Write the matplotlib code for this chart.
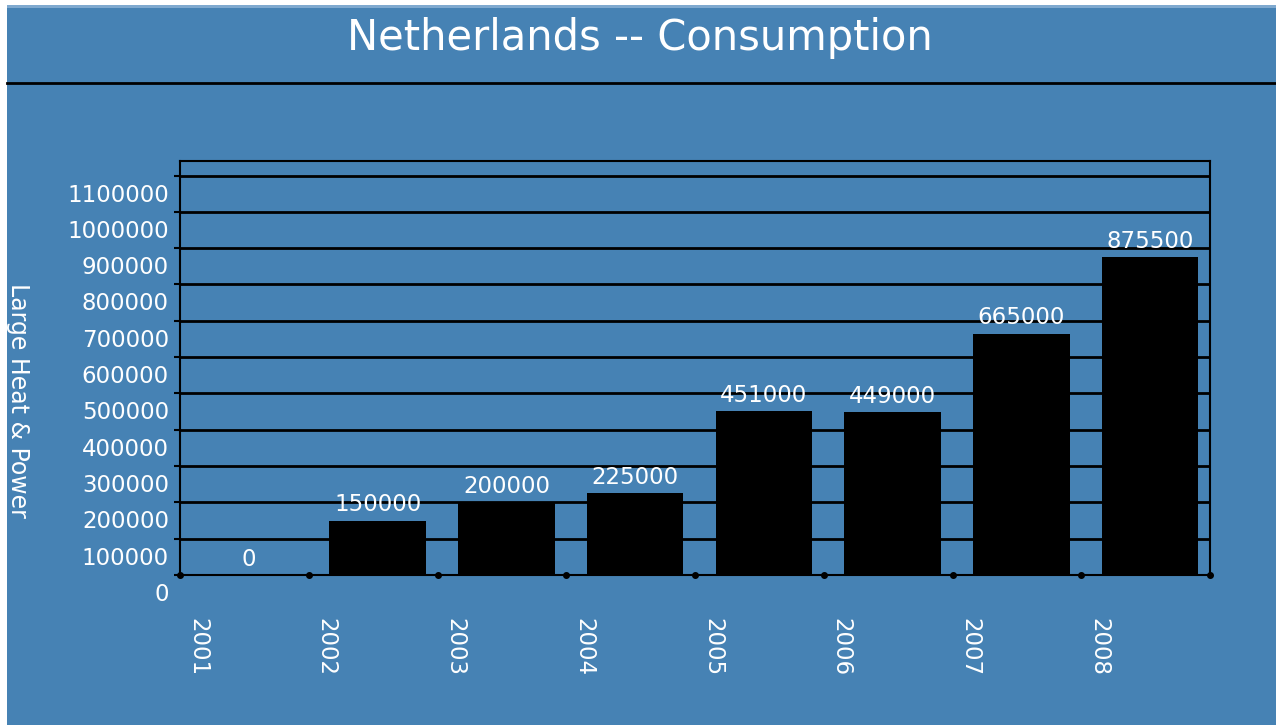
import matplotlib.pyplot as plt
import matplotlib.transforms as mtransforms
from matplotlib.patches import Rectangle
from matplotlib.lines import Line2D
import numpy as np

years = ['2001', '2002', '2003', '2004', '2005', '2006', '2007', '2008']
consumption = [0, 150000, 200000, 225000, 451000, 449000, 665000, 875500]
y_ticks = [0, 100000, 200000, 300000, 400000, 500000, 600000,
           700000, 800000, 900000, 1000000, 1100000]

blue = '#4682b4'
W, H = 1276, 725

fig = plt.figure(figsize=(W / 100, H / 100), dpi=100, facecolor='white')

# fond bleu avec petite marge blanche a gauche et en haut
fig.patches.append(Rectangle((7 / W, 0), 1 - 7 / W, 1 - 5 / H,
                             transform=fig.transFigure, facecolor=blue,
                             edgecolor='none', zorder=-10))
fig.patches.append(Rectangle((7 / W, 1 - 8 / H), 1 - 7 / W, 3 / H,
                             transform=fig.transFigure, facecolor='#7fa9cf',
                             edgecolor='none', zorder=-9))
fig.lines.append(Line2D([7 / W, 1], [1 - 83 / H, 1 - 83 / H],
                        transform=fig.transFigure, color='black', lw=2))

fig.text(640 / W, 1 - 38 / H, 'Netherlands -- Consumption', color='white',
         fontsize=30, ha='center', va='center')

ax = fig.add_axes([180 / W, 1 - 575 / H, 1030 / W, 414 / H])
ax.set_facecolor(blue)

x = np.arange(len(years))
ax.bar(x + 0.535, consumption, width=0.75, color='black', zorder=3)

for xi, v in zip(x, consumption):
    ax.annotate(str(v), (xi + 0.535, v), xytext=(0, 3),
                textcoords='offset points', ha='center', va='bottom',
                color='white', fontsize=16.5, zorder=4)

ax.set_xlim(0, len(years))
ax.set_ylim(0, 1140000)

ax.set_yticks(y_ticks)
ax.set_yticklabels([str(t) for t in y_ticks])
ax.yaxis.grid(True, color='black', lw=2, zorder=1)
ax.tick_params(axis='y', colors='black', labelcolor='white', labelsize=16.5,
               length=4, width=1.5, pad=4)
offset = mtransforms.ScaledTranslation(0, -17 / 100, fig.dpi_scale_trans)
for lab in ax.get_yticklabels():
    lab.set_transform(lab.get_transform() + offset)

ax.set_xticks(x)
ax.set_xticklabels(years, rotation=-90, ha='left', va='top')
ax.tick_params(axis='x', length=0, labelcolor='white', labelsize=16.5, pad=31)
offx = mtransforms.ScaledTranslation(6 / 100, 0, fig.dpi_scale_trans)
for lab in ax.get_xticklabels():
    lab.set_transform(lab.get_transform() + offx)

ax.plot(np.arange(len(years) + 1), np.zeros(len(years) + 1), 'o',
        color='black', ms=4, clip_on=False, zorder=5)

for s in ax.spines.values():
    s.set_color('black')
    s.set_linewidth(1.5)

fig.text(18 / W, 1 - 400 / H, 'Large Heat & Power', color='white',
         fontsize=17, rotation=-90, ha='center', va='center')

fig.savefig('out.png', dpi=100, facecolor='white')
